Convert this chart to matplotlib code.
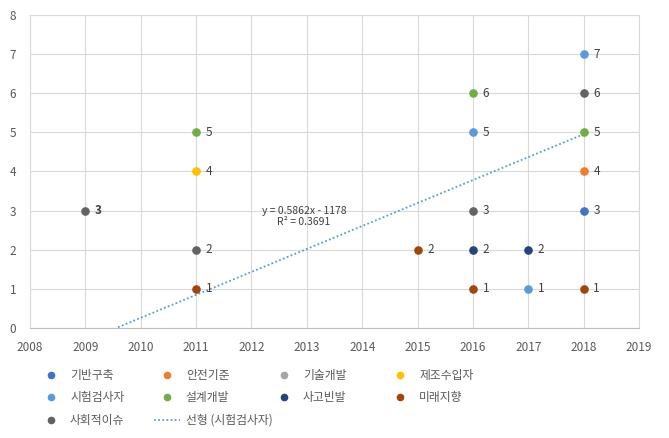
import matplotlib
matplotlib.use("Agg")
import matplotlib.pyplot as plt
from matplotlib.lines import Line2D
import numpy as np

plt.rcParams["font.family"] = ["Noto Sans CJK KR", "DejaVu Sans"]

# series: name -> (years, counts)
names = ["기반구축", "안전기준", "기술개발", "제조수입자", "시험검사자",
         "설계개발", "사고빈발", "미래지향", "사회적이슈"]
colors = ["#4472C4", "#ED7D31", "#A5A5A5", "#FFC000", "#5B9BD5",
          "#70AD47", "#264478", "#9E480E", "#636363"]
years = [
    [2018],
    [2018],
    [],
    [2011],
    [2016, 2017, 2018],
    [2011, 2016, 2018],
    [2016, 2017],
    [2011, 2015, 2016, 2018],
    [2009, 2011, 2016, 2018],
]
counts = [
    [3],
    [4],
    [],
    [4],
    [5, 1, 7],
    [5, 6, 5],
    [2, 2],
    [1, 2, 1, 1],
    [3, 2, 3, 6],
]

# linear trendline shown for 시험검사자
trend_slope = 0.5862
trend_icept = -1178
trend_r2 = 0.3691
trend_x = [2009.0, 2018.0]

xticks = list(range(2008, 2020))
yticks = list(range(0, 9))

INK = "#404040"; TICK = "#595959"; GRID = "#D9D9D9"

fig = plt.figure(figsize=(6.69, 4.38), dpi=100)
ax = fig.add_axes([0.045, 0.251, 0.910, 0.715])

handles = {}
for nm, c, xs, ys in zip(names, colors, years, counts):
    ax.plot(xs, ys, linestyle="none", marker="o", markersize=5.2,
            color=c, zorder=3)
    handles[nm] = Line2D([], [], linestyle="none", marker="o", markersize=4.5,
                         color=c)
    for x, y in zip(xs, ys):
        ax.annotate(str(y), (x, y), textcoords="offset points", xytext=(7, 0),
                    ha="left", va="center", fontsize=8.5, color=INK,
                    fontweight="bold" if x == 2009 else "normal", zorder=4)

tx = np.linspace(trend_x[0], trend_x[1], 200)
ty = trend_slope * tx + trend_icept
keep = ty >= 0
ax.plot(tx[keep], ty[keep], color="#5B9BD5", linestyle=(0, (1, 1.3)),
        linewidth=1.3, zorder=2)
ax.text(2012.95, 2.85, f"y = {trend_slope}x - {abs(trend_icept)}\nR² = {trend_r2}",
        ha="center", va="center", fontsize=7.5, color=INK, linespacing=1.2)
handles["선형 (시험검사자)"] = Line2D([], [], color="#5B9BD5",
                                  linestyle=(0, (1, 1.3)), linewidth=1.3)

ax.set_xlim(2008, 2019)
ax.set_ylim(0, 8)
ax.set_xticks(xticks)
ax.set_yticks(yticks)
ax.tick_params(length=0, labelsize=8.5, labelcolor=TICK)
ax.tick_params(axis="x", pad=9)
ax.tick_params(axis="y", pad=10)
ax.grid(True, color=GRID, linewidth=0.8)
ax.set_axisbelow(True)
for sp in ["top", "right", "left"]:
    ax.spines[sp].set_color(GRID)
    ax.spines[sp].set_linewidth(0.8)
ax.spines["bottom"].set_color("#BFBFBF")

# legend laid out like the Excel one: 4 equal-width columns
legend_cols = [
    ["기반구축", "시험검사자", "사회적이슈"],
    ["안전기준", "설계개발", "선형 (시험검사자)"],
    ["기술개발", "사고빈발"],
    ["제조수입자", "미래지향"],
]
col_x = [0.057, 0.230, 0.405, 0.579]
for cx, col in zip(col_x, legend_cols):
    fig.legend([handles[k] for k in col], col, loc="upper left",
               bbox_to_anchor=(cx, 0.158), frameon=False, fontsize=8.5,
               labelcolor=TICK, handlelength=2.2, handletextpad=0.5,
               labelspacing=0.8, borderaxespad=0, borderpad=0)

fig.savefig("out.png", dpi=100, facecolor="white")
